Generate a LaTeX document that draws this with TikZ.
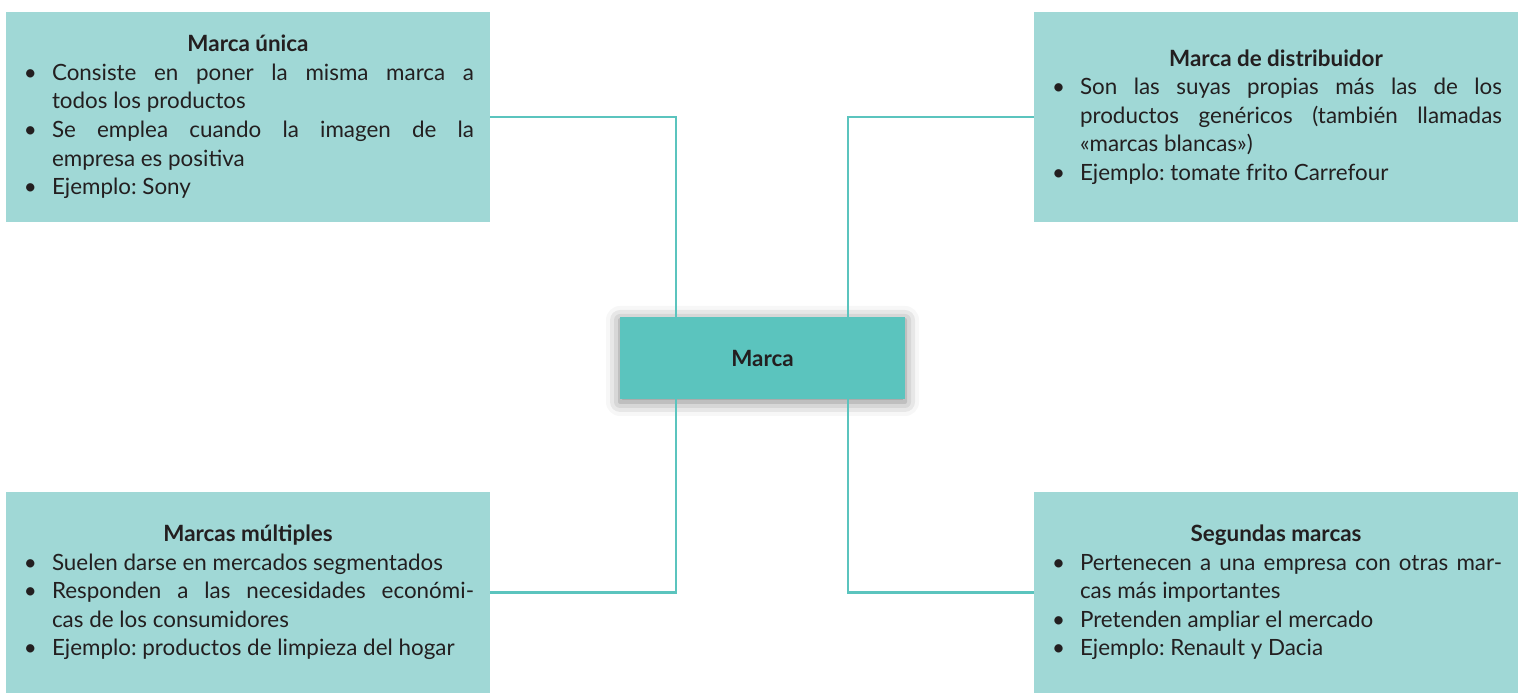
\documentclass[tikz,border=0pt]{standalone}
\usepackage{fontspec}
\setmainfont{Lato}
\usepackage{tikz}
\usetikzlibrary{shadows.blur}

\definecolor{boxteal}{HTML}{A0D8D6}
\definecolor{lineteal}{HTML}{5BC4BE}
\definecolor{inkgray}{HTML}{231F20}

\hyphenpenalty=10000
\emergencystretch=2em
\frenchspacing

% bullet line with hanging indent
\newcommand{\bitem}[1]{\par\noindent\hangindent=15pt\relax\hangafter=1\relax\makebox[15pt][l]{\hspace{1pt}\textbullet}#1}
\newcommand{\btitle}[1]{{\centering\bfseries #1\par}}

\tikzset{
  infobox/.style={fill=boxteal, text=inkgray, minimum width=242pt, text width=226pt,
    inner xsep=8pt, inner ysep=0pt, align=justify, font=\fontsize{11.2}{14.3}\selectfont},
  mainbox/.style={fill=lineteal, text=inkgray, minimum width=142.5pt, minimum height=41pt,
    font=\fontsize{11.2}{14.3}\selectfont\bfseries,
    blur shadow={shadow xshift=0pt, shadow yshift=-1.5pt, shadow blur radius=7pt, shadow opacity=50}},
  link/.style={draw=lineteal, line width=1.4pt}
}

\begin{document}
\begin{tikzpicture}[x=0.5pt, y=0.5pt]
  \useasboundingbox (0,0) rectangle (1518,695);

  % Center
  \node[mainbox] (marca) at (762.5,337) {Marca};

  % Outer boxes
  \node[infobox, minimum height=105pt] (unica) at (248,578) {%
    \btitle{Marca única}
    \bitem{Consiste en poner la misma marca a\linebreak todos los productos}
    \bitem{Se emplea cuando la imagen de la\linebreak empresa es positiva}
    \bitem{Ejemplo: Sony}};
  \node[infobox, minimum height=105pt] (distrib) at (1276,578) {%
    \btitle{Marca de distribuidor}
    \bitem{Son las suyas propias más las de los\linebreak productos genéricos (también llamadas\linebreak «marcas blancas»)}
    \bitem{Ejemplo: tomate frito Carrefour}};
  \node[infobox, minimum height=100.5pt] (multiples) at (248,102.5) {%
    \btitle{Marcas múltiples}
    \bitem{Suelen darse en mercados segmentados}
    \bitem{Responden a las necesidades económi-\linebreak cas de los consumidores}
    \bitem{Ejemplo: productos de limpieza del hogar}};
  \node[infobox, minimum height=100.5pt] (segundas) at (1276,102.5) {%
    \btitle{Segundas marcas}
    \bitem{Pertenecen a una empresa con otras mar-\linebreak cas más importantes}
    \bitem{Pretenden ampliar el mercado}
    \bitem{Ejemplo: Renault y Dacia}};

  % Connectors
  \draw[link] (unica.east) -| ([xshift=-43.25pt]marca.north);
  \draw[link] (distrib.west) -| ([xshift=42.75pt]marca.north);
  \draw[link] (multiples.east) -| ([xshift=-43.25pt]marca.south);
  \draw[link] (segundas.west) -| ([xshift=42.75pt]marca.south);
\end{tikzpicture}
\end{document}
